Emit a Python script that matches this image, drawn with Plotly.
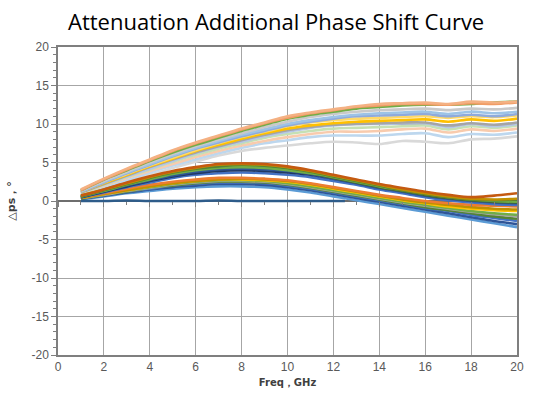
import plotly.graph_objects as go

FREQ = [1, 2, 3, 4, 5, 6, 7, 8, 9, 10, 11, 12, 13, 14, 15, 16, 17, 18, 19, 20]

# upper group (large attenuation states)
U1 = [1.5, 2.9, 4.2, 5.4, 6.6, 7.6, 8.5, 9.4, 10.2, 11.0, 11.5, 11.9, 12.3, 12.6, 12.7, 12.8, 12.6, 12.9, 12.8, 12.9]
U2 = [1.4, 2.8, 4.1, 5.3, 6.5, 7.5, 8.4, 9.3, 10.1, 10.8, 11.4, 11.8, 12.2, 12.4, 12.6, 12.6, 12.5, 12.7, 12.6, 12.8]
U3 = [1.4, 2.8, 4.0, 5.2, 6.3, 7.3, 8.2, 9.1, 9.9, 10.7, 11.2, 11.6, 12.0, 12.2, 12.4, 12.5, 12.5, 12.6, 12.8, 12.9]
U4 = [1.3, 2.6, 3.8, 5.0, 6.1, 7.1, 8.0, 8.8, 9.6, 10.3, 10.9, 11.3, 11.6, 11.8, 11.9, 12.0, 11.8, 12.0, 11.9, 12.1]
U5 = [1.3, 2.5, 3.7, 4.8, 5.9, 6.9, 7.8, 8.6, 9.3, 10.0, 10.5, 10.9, 11.2, 11.4, 11.5, 11.6, 11.3, 11.6, 11.4, 11.6]
U6 = [1.2, 2.4, 3.6, 4.7, 5.8, 6.8, 7.6, 8.4, 9.1, 9.8, 10.3, 10.7, 11.0, 11.1, 11.2, 11.3, 11.0, 11.2, 11.0, 11.3]
U7 = [1.2, 2.3, 3.4, 4.5, 5.5, 6.5, 7.3, 8.1, 8.8, 9.4, 9.8, 10.1, 10.3, 10.4, 10.5, 10.6, 10.3, 10.6, 10.4, 10.7]
U8 = [1.1, 2.2, 3.3, 4.4, 5.4, 6.3, 7.1, 7.9, 8.6, 9.2, 9.6, 9.9, 10.0, 10.1, 10.2, 10.2, 9.8, 10.1, 9.9, 10.2]
U9 = [1.0, 2.1, 3.1, 4.1, 5.1, 6.0, 6.8, 7.5, 8.2, 8.7, 9.1, 9.4, 9.5, 9.6, 9.7, 9.8, 9.3, 9.7, 9.5, 9.8]
U10 = [1.0, 2.0, 3.0, 3.9, 4.8, 5.7, 6.5, 7.2, 7.8, 8.3, 8.7, 9.0, 9.0, 9.1, 9.3, 9.4, 8.9, 9.3, 9.1, 9.4]
U11 = [0.9, 1.8, 2.7, 3.7, 4.6, 5.4, 6.2, 6.9, 7.5, 7.9, 8.3, 8.5, 8.5, 8.5, 8.7, 8.8, 8.3, 8.7, 8.6, 8.9]
U12 = [0.8, 1.6, 2.5, 3.4, 4.3, 5.1, 5.9, 6.5, 6.9, 7.2, 7.5, 7.7, 7.6, 7.4, 7.8, 7.7, 7.5, 8.0, 8.1, 8.4]
U13 = [1.1, 2.2, 3.2, 4.2, 5.2, 6.2, 7.0, 7.7, 8.4, 9.0, 9.5, 9.8, 10.0, 10.0, 10.1, 10.1, 9.6, 10.0, 9.7, 10.0]
U14 = [1.2, 2.4, 3.5, 4.6, 5.6, 6.6, 7.5, 8.3, 9.0, 9.7, 10.2, 10.5, 10.7, 10.8, 10.9, 11.0, 10.8, 11.0, 10.9, 11.1]

# middle group
L1 = [0.7, 1.5, 2.4, 3.2, 3.9, 4.4, 4.8, 4.9, 4.8, 4.5, 4.0, 3.4, 2.8, 2.2, 1.7, 1.2, 0.8, 0.5, 0.7, 1.0]
L2 = [0.7, 1.5, 2.3, 3.1, 3.8, 4.3, 4.7, 4.8, 4.7, 4.4, 3.9, 3.3, 2.7, 2.1, 1.5, 1.0, 0.6, 0.3, 0.2, 0.3]
L3 = [0.6, 1.4, 2.2, 3.0, 3.7, 4.2, 4.5, 4.7, 4.6, 4.3, 3.8, 3.2, 2.6, 2.0, 1.4, 0.9, 0.5, 0.2, 0.1, 0.2]
L4 = [0.6, 1.4, 2.1, 2.9, 3.6, 4.1, 4.4, 4.5, 4.4, 4.1, 3.6, 3.0, 2.4, 1.8, 1.3, 0.8, 0.4, 0.1, -0.1, -0.2]
L5 = [0.5, 1.3, 2.0, 2.7, 3.3, 3.8, 4.1, 4.2, 4.1, 3.9, 3.5, 2.9, 2.3, 1.7, 1.2, 0.7, 0.3, 0.0, -0.2, -0.3]
L6 = [0.5, 1.2, 1.9, 2.6, 3.2, 3.6, 3.9, 4.0, 3.9, 3.7, 3.4, 2.9, 2.4, 1.8, 1.3, 0.8, 0.4, 0.1, -0.1, -0.1]
L7 = [0.5, 1.1, 1.8, 2.4, 3.0, 3.4, 3.6, 3.7, 3.6, 3.4, 3.1, 2.6, 2.1, 1.5, 1.0, 0.5, 0.1, -0.2, -0.4, -0.5]
L8 = [0.6, 1.3, 2.1, 2.8, 3.5, 4.0, 4.3, 4.4, 4.3, 4.0, 3.6, 3.1, 2.5, 1.9, 1.4, 0.9, 0.5, 0.2, 0.0, -0.1]

# lower group
M1 = [0.5, 1.0, 1.6, 2.1, 2.5, 2.8, 3.0, 3.0, 2.9, 2.7, 2.3, 1.8, 1.3, 0.8, 0.4, 0.0, -0.3, -0.5, -0.6, -0.7]
M2 = [0.4, 0.9, 1.4, 1.9, 2.3, 2.6, 2.8, 2.8, 2.7, 2.5, 2.1, 1.6, 1.1, 0.6, 0.1, -0.3, -0.7, -1.0, -1.2, -1.3]
M3 = [0.4, 0.9, 1.4, 1.8, 2.2, 2.5, 2.7, 2.7, 2.6, 2.3, 1.9, 1.4, 0.9, 0.4, -0.1, -0.5, -0.9, -1.3, -1.6, -1.8]
M4 = [0.4, 0.8, 1.3, 1.7, 2.1, 2.4, 2.6, 2.6, 2.5, 2.2, 1.8, 1.3, 0.8, 0.3, -0.2, -0.6, -1.0, -1.4, -1.7, -2.0]
M5 = [0.3, 0.8, 1.2, 1.6, 2.0, 2.2, 2.4, 2.4, 2.3, 2.0, 1.6, 1.1, 0.6, 0.1, -0.4, -0.9, -1.3, -1.8, -2.2, -2.6]
M6 = [0.2, 0.6, 1.0, 1.3, 1.6, 1.8, 1.9, 1.9, 1.8, 1.5, 1.1, 0.6, 0.1, -0.4, -0.9, -1.4, -1.9, -2.4, -2.9, -3.4]
M7 = [0.4, 0.9, 1.4, 1.9, 2.3, 2.6, 2.8, 2.9, 2.8, 2.6, 2.2, 1.7, 1.2, 0.7, 0.2, -0.2, -0.5, -0.8, -1.0, -1.1]
M8 = [0.3, 0.8, 1.2, 1.7, 2.0, 2.3, 2.5, 2.5, 2.4, 2.1, 1.7, 1.2, 0.7, 0.2, -0.3, -0.8, -1.2, -1.6, -2.0, -2.3]
M9 = [0.3, 0.7, 1.1, 1.5, 1.8, 2.0, 2.2, 2.2, 2.1, 1.8, 1.4, 0.9, 0.4, -0.1, -0.6, -1.1, -1.6, -2.1, -2.6, -3.0]

# reference state
REF_FREQ = [1, 2, 3, 4, 5, 6, 7, 8, 9, 10, 11, 12, 12.5]
REF = [0.0, 0.0, 0.05, 0.0, 0.0, 0.0, 0.05, 0.0, 0.0, 0.0, 0.0, 0.0, 0.0]

Y_TICKS = [-20, -15, -10, -5, 0, 5, 10, 15, 20]
Y_LABELS = ["-20", "-15", "-10", "-5", "0", "5", "10", "15", "20"]
X_TICKS = [0, 2, 4, 6, 8, 10, 12, 14, 16, 18, 20]

UPPER = [U12, U11, U10, U9, U13, U8, U7, U14, U6, U5, U4, U3, U2, U1]
UPPER_COLORS = ["#D9D9D9", "#BDD7EE", "#F8CBAD", "#C5E0B4", "#B4C7E7", "#A5A5A5",
                "#FFC000", "#FFD966", "#8FAADC", "#9DC3E6", "#C9C9C9", "#70AD47",
                "#F19C65", "#F4B183"]
MID = [L7, L6, L5, L4, L8, L3, L2, L1]
MID_COLORS = ["#4472C4", "#203864", "#2F5597", "#43682B", "#70AD47", "#548235",
              "#BF9000", "#C55A11"]
LOW = [M6, M9, M5, M8, M4, M3, M2, M7, M1]
LOW_COLORS = ["#5B9BD5", "#2F5597", "#4472C4", "#548235", "#A5A5A5", "#70AD47",
              "#FFC000", "#BF9000", "#ED7D31"]

fig = go.Figure()
for ys, c in zip(UPPER + LOW + MID, UPPER_COLORS + LOW_COLORS + MID_COLORS):
    fig.add_trace(go.Scatter(x=FREQ, y=ys, mode="lines",
                             line=dict(color=c, width=2.6, shape="spline"),
                             showlegend=False, hoverinfo="skip"))
fig.add_trace(go.Scatter(x=REF_FREQ, y=REF, mode="lines",
                         line=dict(color="#2E5C8A", width=2.5, shape="spline"),
                         showlegend=False, hoverinfo="skip"))
# helper trace so the tick axis on the zero line is rendered
fig.add_trace(go.Scatter(x=[None], y=[None], xaxis="x2", mode="lines",
                         showlegend=False, hoverinfo="skip"))

tickfont = dict(family="Liberation Sans", size=12, color="#595959")
fig.update_layout(
    width=533, height=407,
    margin=dict(l=58, r=9, t=47, b=52),
    paper_bgcolor="white", plot_bgcolor="white",
    title=dict(text="Attenuation Additional Phase Shift Curve",
               x=0.518, xanchor="center", y=0.946, yanchor="middle",
               font=dict(family="Open Sans", size=22, color="#000000")),
    xaxis=dict(range=[0, 20], tickvals=X_TICKS, showgrid=True,
               gridcolor="#A6A6A6", gridwidth=1, zeroline=False,
               showline=True, linecolor="#7F7F7F", linewidth=1.5, mirror=True,
               ticks="", tickfont=tickfont,
               title=dict(text="<b>Freq，GHz</b>", standoff=6,
                          font=dict(family="DejaVu Sans", size=10, color="#404040"))),
    xaxis2=dict(range=[0, 20], overlaying="x", anchor="free", position=0.5,
                showgrid=False, zeroline=False, showline=False,
                showticklabels=False, ticks="outside", ticklen=5, dtick=2,
                tick0=0, tickcolor="#7F7F7F",
                minor=dict(ticks="outside", ticklen=3, dtick=1, tick0=0,
                           tickcolor="#7F7F7F", showgrid=False)),
    yaxis=dict(range=[-20, 20], tickvals=Y_TICKS, ticktext=Y_LABELS, showgrid=True,
               gridcolor="#A6A6A6", gridwidth=1,
               zeroline=True, zerolinecolor="#6E6E6E", zerolinewidth=2,
               showline=True, linecolor="#7F7F7F", linewidth=1.5, mirror=True,
               ticks="outside", ticklen=5, tickcolor="#7F7F7F",
               minor=dict(ticks="outside", ticklen=3, dtick=1, tick0=0,
                          tickcolor="#7F7F7F", showgrid=False),
               tickfont=tickfont,
               title=dict(text="<b>△ps，°</b>", standoff=14,
                          font=dict(family="DejaVu Sans", size=11, color="#404040"))),
)

fig.write_html("out.html")
